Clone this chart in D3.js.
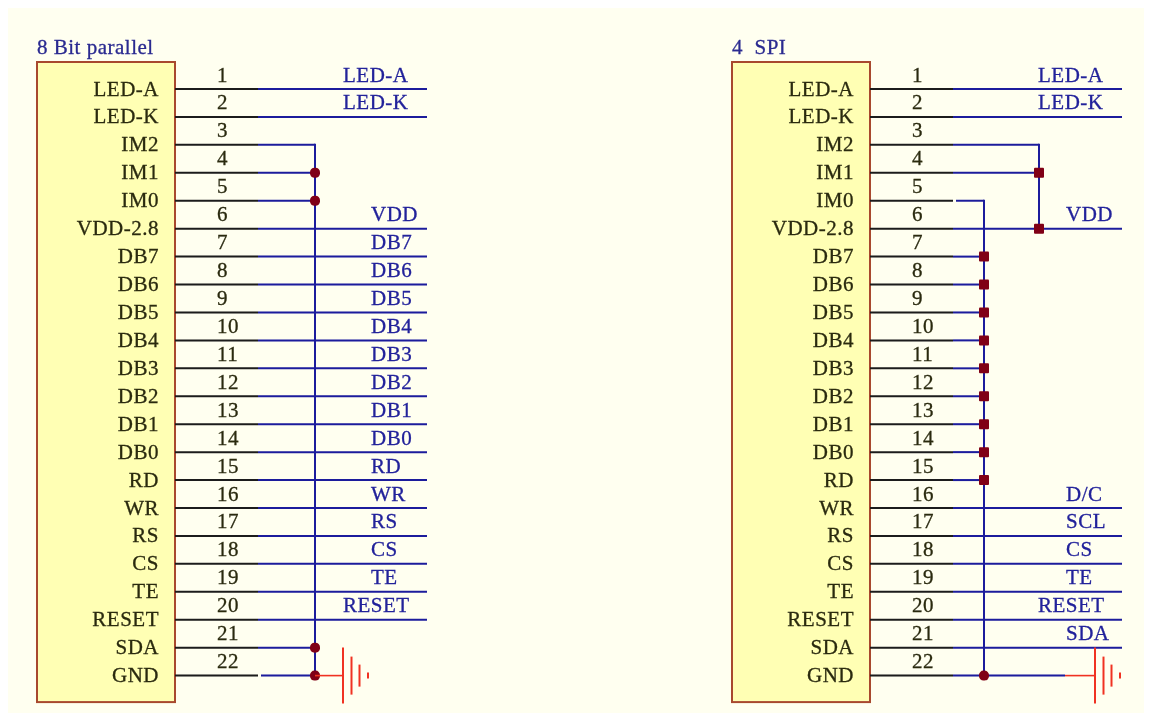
<!DOCTYPE html>
<html>
<head>
<meta charset="utf-8">
<title>LCD interface</title>
<style>
    html, body { margin:0; padding:0; background:#fff; }
    svg { display:block; }
    text { font-family:"Liberation Serif", serif; font-size:21px; letter-spacing:0.5px; white-space:pre; stroke-width:0.3px; paint-order:stroke; }
</style>
</head>
<body>
<div id="chart"></div>
<script src="https://d3js.org/d3.v7.min.js"></script>
<script>
var pinNames = ["LED-A","LED-K","IM2","IM1","IM0","VDD-2.8","DB7","DB6","DB5","DB4","DB3","DB2","DB1","DB0","RD","WR","RS","CS","TE","RESET","SDA","GND"];
var pinNumbers = d3.range(1, 23);

// panel 1: 8 bit parallel
var parallelTitle = "8 Bit parallel";
var parallelNets = ["LED-A","LED-K","","","","VDD","DB7","DB6","DB5","DB4","DB3","DB2","DB1","DB0","RD","WR","RS","CS","TE","RESET","",""];
var parallelEnds = [1,2,6,7,8,9,10,11,12,13,14,15,16,17,18,19,20];   // pins running out to the right edge
var parallelBus = [3,22];
var parallelDots = [4,5,21,22];

// panel 2: 4 SPI
var spiTitle = "4  SPI";
var spiNets = ["LED-A","LED-K","","","","VDD","","","","","","","","","","D/C","SCL","CS","TE","RESET","SDA",""];
var spiEnds = [1,2,6,16,17,18,19,20,21];
var spiBusVdd = [3,6];
var spiBusGnd = [5,22];
var spiDotsVdd = [4,6];
var spiDotsGnd = [7,8,9,10,11,12,13,14,15,22];

var w = 1149, h = 718;
var y = d3.scaleLinear().domain([1,22]).range([89,675.6]);

var svg = d3.select("#chart").append("svg").attr("width",w).attr("height",h);
var f = svg.append("defs").append("filter").attr("id","soft")
    .attr("filterUnits","userSpaceOnUse").attr("x",0).attr("y",0).attr("width",w).attr("height",h);
f.append("feGaussianBlur").attr("stdDeviation",0.4);

svg.append("rect").attr("x",8).attr("y",8).attr("width",1136).attr("height",705).attr("fill","#fffff0");
var root = svg.append("g").attr("filter","url(#soft)");

var blue = "#1a1a9c", black = "#1c1c1c", brown = "#a8482f", red = "#f03020", dot = "#800014";

function drawPanel(o) {
    var g = root.append("g").attr("transform","translate("+o.dx+",0)");
    var x = d3.scaleLinear().domain([0,390]).range([37,427]);

    g.append("rect").attr("x",x(0)).attr("y",y(1)-27).attr("width",x(138)-x(0)).attr("height",y(22)+26.5-y(1)+27)
        .attr("fill","#ffffb4").attr("stroke",brown).attr("stroke-width",2);
    g.append("text").attr("x",x(0)).attr("y",54).attr("fill","#2a2a90").attr("stroke","#2a2a90").text(o.title);

    // pin names inside the box
    g.selectAll(".pin").data(pinNames).enter().append("text")
        .attr("x",x(122)).attr("y",function(d,i){ return y(i+1)+6.5; })
        .attr("text-anchor","end").attr("fill","#2a2a10").attr("stroke","#2a2a10").text(function(d){ return d; });

    // pin numbers
    g.selectAll(".num").data(pinNumbers).enter().append("text")
        .attr("x",x(180)).attr("y",function(d){ return y(d)-7.5; })
        .attr("fill","#2a2a10").attr("stroke","#2a2a10").text(function(d){ return d; });

    // net names on the right
    g.selectAll(".net").data(o.nets).enter().append("text")
        .attr("x",function(d){ return x(d == "LED-A" || d == "LED-K" || d == "RESET" ? 306 : 334); })
        .attr("y",function(d,i){ return y(i+1)-7.5; })
        .attr("fill","#20209a").attr("stroke","#20209a").text(function(d){ return d; });

    // stubs and wires
    pinNumbers.forEach(function(p){
        g.append("line").attr("x1",x(138)).attr("x2",x(221)).attr("y1",y(p)).attr("y2",y(p))
            .attr("stroke",black).attr("stroke-width",2);
        var end = o.ends.indexOf(p) >= 0 ? 390 : o.stop(p);
        if (end > 221) {
            g.append("line").attr("x1",x(o.gaps.indexOf(p) >= 0 ? 224 : 221)).attr("x2",x(end)).attr("y1",y(p)).attr("y2",y(p))
                .attr("stroke",blue).attr("stroke-width",2);
        }
    });

    // vertical buses and junctions
    o.buses.forEach(function(b){
        g.append("line").attr("x1",x(b.x)).attr("x2",x(b.x)).attr("y1",y(b.pins[0])-1).attr("y2",y(b.pins[1]))
            .attr("stroke",blue).attr("stroke-width",2);
        g.selectAll(".dot").data(b.dots).enter().append("rect")
            .attr("x",x(b.x)-5).attr("y",function(d){ return y(d)-5; })
            .attr("width",10).attr("height",10)
            .attr("rx",function(d){ return o.round.indexOf(d) >= 0 ? 4.5 : 1; })
            .attr("fill",dot);
    });

    // ground symbol
    var gx = o.gnd, gy = y(22);
    g.append("line").attr("x1",x(o.gndFrom)).attr("x2",x(gx)).attr("y1",gy).attr("y2",gy).attr("stroke",red).attr("stroke-width",1.6);
    [[0,28],[8.5,19],[16.5,11],[25,3]].forEach(function(s){
        g.append("line").attr("x1",x(gx+s[0])).attr("x2",x(gx+s[0])).attr("y1",gy-s[1]).attr("y2",gy+s[1])
            .attr("stroke",red).attr("stroke-width",2);
    });
}

drawPanel({
    dx: 0, title: parallelTitle, nets: parallelNets, ends: parallelEnds, gaps: [22],
    buses: [{x:278, pins:parallelBus, dots:parallelDots}],
    stop: function(p){ return p == 3 || p == 4 || p == 5 || p == 21 || p == 22 ? 278 : 221; },
    gnd: 306, gndFrom: 278, round: [4,5,21,22]
});

drawPanel({
    dx: 695, title: spiTitle, nets: spiNets, ends: spiEnds, gaps: [5],
    buses: [{x:307, pins:spiBusVdd, dots:spiDotsVdd}, {x:252, pins:spiBusGnd, dots:spiDotsGnd}],
    stop: function(p){ return p == 3 || p == 4 ? 307 : p == 22 ? 333 : p == 5 || (p > 6 && p < 16) ? 252 : 221; },
    gnd: 363, gndFrom: 333, round: [22]
});
</script>
</body>
</html>
